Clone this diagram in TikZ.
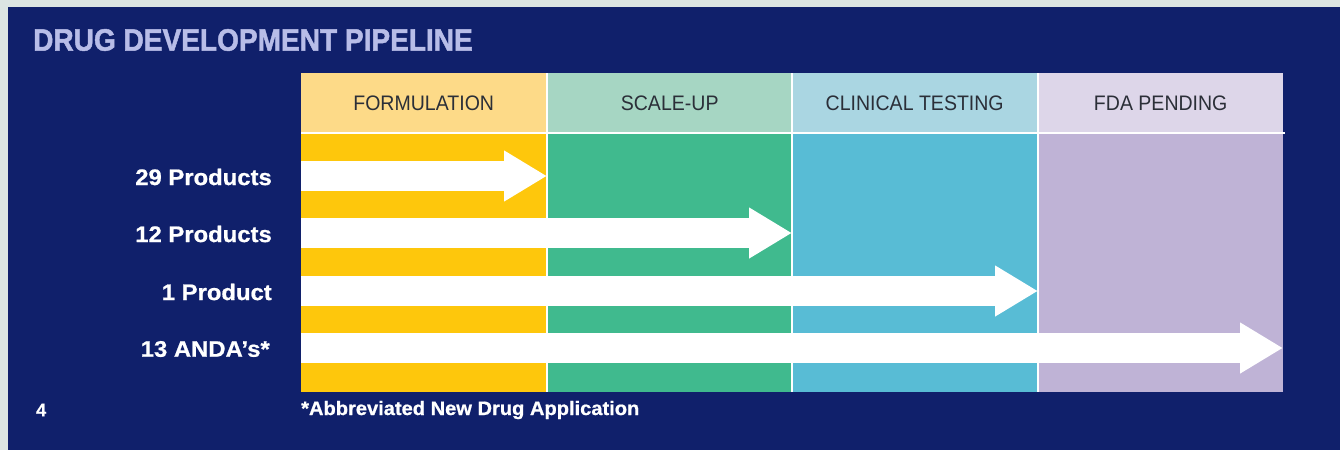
\documentclass[tikz,border=0pt]{standalone}
\usepackage{fontspec}
\usepackage{graphicx}
\setmainfont{Liberation Sans}
\newfontfamily\heavyfont{Liberation Sans}[BoldFeatures={FakeBold=1.6}]
\newfontfamily\labelfont{Liberation Sans}[BoldFeatures={FakeBold=0.8}]
\usetikzlibrary{arrows.meta}

% palette
\definecolor{pagebg}{HTML}{DCE5E2}
\definecolor{navy}{HTML}{10206B}
\definecolor{titlecol}{HTML}{B8BDE8}
\definecolor{hdrtext}{HTML}{2B2F38}
\definecolor{formH}{HTML}{FDDA88}
\definecolor{formB}{HTML}{FEC70C}
\definecolor{scaleH}{HTML}{A6D6C3}
\definecolor{scaleB}{HTML}{40BA8E}
\definecolor{clinH}{HTML}{AAD6E2}
\definecolor{clinB}{HTML}{58BCD5}
\definecolor{fdaH}{HTML}{DDD6E9}
\definecolor{fdaB}{HTML}{BFB3D6}

\newcommand{\narrow}[1]{\scalebox{0.93}[1]{#1}}
\newcommand{\widen}[1]{\scalebox{1.06}[1]{#1}}

\tikzset{
  hdr/.style={anchor=north west, inner sep=0, minimum width=245, minimum height=60,
    text=hdrtext, font=\fontsize{21}{23}\selectfont},
  cell/.style={anchor=north west, inner sep=0, minimum width=245, minimum height=259},
  rowlab/.style={anchor=east, inner sep=0, text=white, font=\labelfont\bfseries\fontsize{22.5}{24}\selectfont},
  sep/.style={draw=white, line width=2},
  pipe/.style={draw=white, line width=30, -{Triangle[length=43pt, width=48pt]}},
}

\begin{document}
\begin{tikzpicture}[x=1pt, y=-1pt]
\useasboundingbox (0,0) rectangle (1340,450);
\fill[pagebg] (0,0) rectangle (1340,450);
\fill[navy] (8,7) rectangle (1340,450);

% title
\node[anchor=west, inner sep=0, text=titlecol, font=\heavyfont\bfseries\fontsize{31}{33}\selectfont]
  (title) at (33,40) {\scalebox{0.905}[1]{DRUG DEVELOPMENT PIPELINE}};

% stage headers
\node[hdr, fill=formH]  (h1) at (301,73) {\narrow{FORMULATION}};
\node[hdr, fill=scaleH] (h2) at (547,73) {\narrow{SCALE-UP}};
\node[hdr, fill=clinH]  (h3) at (792,73) {\narrow{CLINICAL TESTING}};
\node[hdr, fill=fdaH]   (h4) at (1038,73) {\narrow{FDA PENDING}};

% stage bodies
\node[cell, fill=formB]  (b1) at (301,133) {};
\node[cell, fill=scaleB] (b2) at (547,133) {};
\node[cell, fill=clinB]  (b3) at (792,133) {};
\node[cell, fill=fdaB]   (b4) at (1038,133) {};

% white rules between stages and under the headers
\draw[sep] (h2.north west) -- (b2.south west);
\draw[sep] (h3.north west) -- (b3.south west);
\draw[sep] (h4.north west) -- (b4.south west);
\draw[sep] (b1.north west) -- ([xshift=2]b4.north east);

% arrow rows
\coordinate (s1) at (301,176);
\coordinate (s2) at (301,233);
\coordinate (s3) at (301,291);
\coordinate (s4) at (301,348);
\coordinate (e1) at (547,176);
\coordinate (e2) at (792,233);
\coordinate (e3) at (1038,291);
\coordinate (e4) at (1283,348);

\draw[pipe] (s1) -- (e1);
\draw[pipe] (s2) -- (e2);
\draw[pipe] (s3) -- (e3);
\draw[pipe] (s4) -- (e4);

% row labels
\node[rowlab] (l1) at (272,177) {\widen{29 Products}};
\node[rowlab] (l2) at (272,234) {\widen{12 Products}};
\node[rowlab] (l3) at (272,292) {\widen{1 Product}};
\node[rowlab] (l4) at (270,349) {\widen{13 ANDA’s*}};

% page number and footnote
\node[anchor=west, inner sep=0, text=white, font=\labelfont\bfseries\fontsize{18}{20}\selectfont]
  (page) at (36,410) {4};
\node[anchor=west, inner sep=0, text=white, font=\labelfont\bfseries\fontsize{19.5}{21}\selectfont]
  (note) at (301,410) {\scalebox{1.03}[1]{*Abbreviated New Drug Application}};
\end{tikzpicture}
\end{document}
